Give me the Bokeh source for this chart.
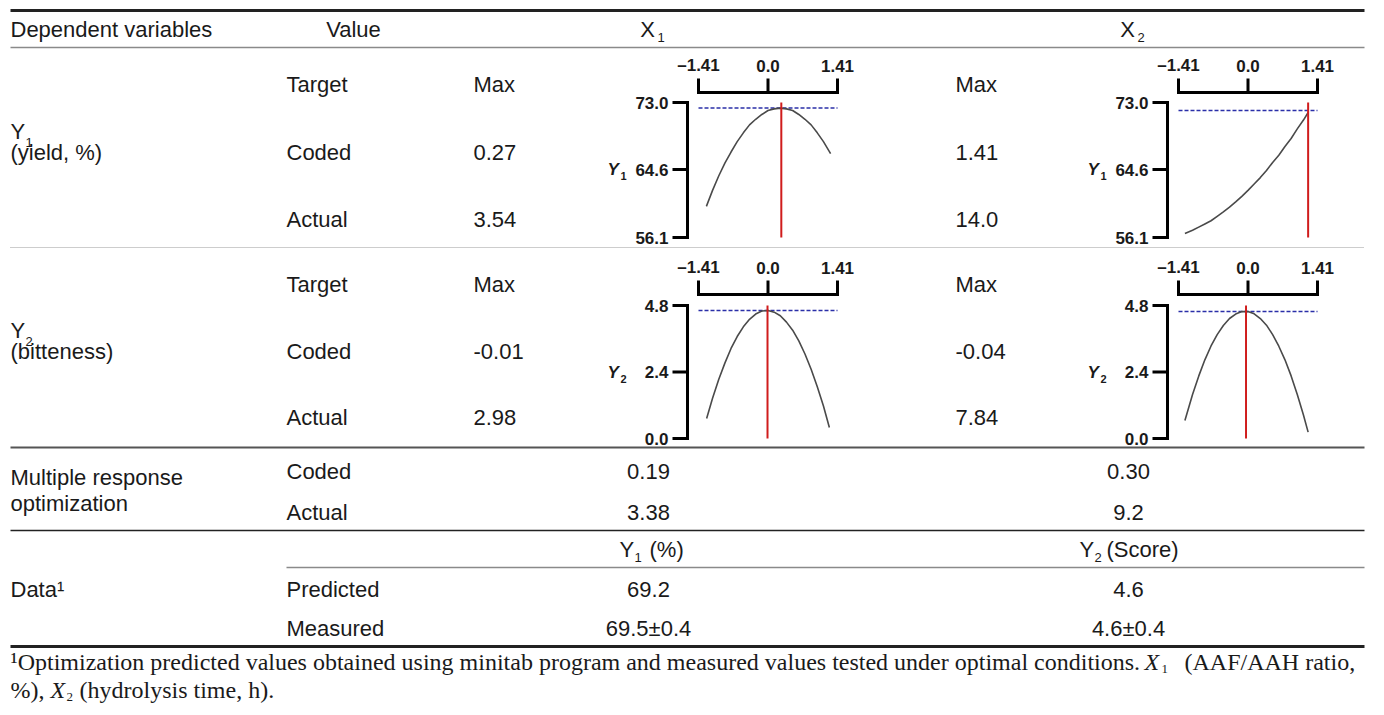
from bokeh.plotting import figure
from bokeh.models import Range1d, ColumnDataSource
from bokeh.core.properties import value
from bokeh.embed import file_html
from bokeh.resources import INLINE

# ---------------- data ----------------
header_labels = ["Dependent variables", "Value"]
factor_names = ["X", "X"]
factor_subs = ["1", "2"]
dep_names = ["Y", "Y"]
dep_subs = ["1", "2"]
dep_units = ["(yield, %)", "(bitteness)"]
value_rows = ["Target", "Coded", "Actual"]
y1_x1_vals = ["Max", "0.27", "3.54"]
y1_x2_vals = ["Max", "1.41", "14.0"]
y2_x1_vals = ["Max", "-0.01", "2.98"]
y2_x2_vals = ["Max", "-0.04", "7.84"]
mro_label = ["Multiple response", "optimization"]
mro_rows = ["Coded", "Actual"]
mro_x1 = ["0.19", "3.38"]
mro_x2 = ["0.30", "9.2"]
data_label = "Data\u00b9"
data_heads = ["(%)", "(Score)"]
data_rows = ["Predicted", "Measured"]
data_y1 = ["69.2", "69.5\u00b10.4"]
data_y2 = ["4.6", "4.6\u00b10.4"]
foot_1a = "\u00b9Optimization predicted values obtained using minitab program and measured values tested under optimal conditions."
foot_1b = "(AAF/AAH ratio,"
foot_2a = "%),"
foot_2b = "(hydrolysis time, h)."

coded_ticks = [-1.41, 0.0, 1.41]
coded_tick_labels = ["\u20131.41", "0.0", "1.41"]
y1_ticks = [73.0, 64.6, 56.1]
y1_tick_labels = ["73.0", "64.6", "56.1"]
y2_ticks = [4.8, 2.4, 0.0]
y2_tick_labels = ["4.8", "2.4", "0.0"]

# response curves (coded factor level -> response)
y1_x1_cx = [-1.25, -1.125, -1.0, -0.875, -0.75, -0.625, -0.5, -0.375, -0.25, -0.125, 0.0,
            0.125, 0.25, 0.375, 0.5, 0.625, 0.75, 0.875, 1.0, 1.125, 1.27]
y1_x1_cy = [60.0, 62.0, 63.8, 65.4, 66.8, 68.1, 69.2, 70.2, 70.9, 71.5, 72.0,
            72.2, 72.3, 72.2, 72.0, 71.5, 70.9, 70.2, 69.2, 68.1, 66.6]
y1_x2_cx = [-1.28, -1.125, -1.0, -0.875, -0.75, -0.625, -0.5, -0.375, -0.25, -0.125, 0.0,
            0.125, 0.25, 0.375, 0.5, 0.625, 0.75, 0.875, 1.0, 1.125, 1.22]
y1_x2_cy = [56.6, 57.0, 57.4, 57.8, 58.2, 58.75, 59.3, 59.9, 60.55, 61.25, 62.0,
            62.8, 63.6, 64.5, 65.5, 66.4, 67.5, 68.5, 69.7, 70.8, 71.75]
y2_x1_cx = [-1.245, -1.125, -1.0, -0.875, -0.75, -0.625, -0.5, -0.375, -0.25, -0.125, 0.0,
            0.125, 0.25, 0.375, 0.5, 0.625, 0.75, 0.875, 1.0, 1.125, 1.245]
y2_x1_cy = [0.72, 1.45, 2.13, 2.72, 3.25, 3.68, 4.03, 4.30, 4.49, 4.60, 4.62,
            4.56, 4.43, 4.20, 3.91, 3.52, 3.05, 2.50, 1.87, 1.17, 0.40]
y2_x2_cx = [-1.28, -1.125, -1.0, -0.875, -0.75, -0.625, -0.5, -0.375, -0.25, -0.125, 0.0,
            0.125, 0.25, 0.375, 0.5, 0.625, 0.75, 0.875, 1.0, 1.125, 1.22]
y2_x2_cy = [0.65, 1.59, 2.25, 2.84, 3.34, 3.75, 4.08, 4.33, 4.49, 4.58, 4.58,
            4.50, 4.33, 4.09, 3.75, 3.33, 2.84, 2.26, 1.59, 0.85, 0.23]
opt_levels = [0.27, 1.22, -0.01, -0.04]      # red vertical lines
target_resp = [72.3, 72.0, 4.62, 4.58]       # blue dashed lines

# ---------------- layout / style ----------------
W, H = 1384, 715
X0, Y0 = 0, 0
SANS = "Liberation Sans"
SERIF = "Liberation Serif"
TXT = "#1a1a1a"
FS = 22
FN = 24
L, R = 10, 1364

p = figure(width=W, height=H, x_range=Range1d(X0, X0 + W), y_range=Range1d(Y0 + H, Y0),
           output_backend="svg", toolbar_location=None, min_border=0)
p.axis.visible = False
p.grid.visible = False
p.outline_line_color = None
p.background_fill_color = "white"
p.border_fill_color = "white"


def txt(xs, ys, texts, size=FS, align="left", style="normal", font=SANS, xr="default", yr="default",
        color=TXT, baseline="middle"):
    src = ColumnDataSource(dict(x=list(xs), y=list(ys), text=list(texts)))
    p.text(x="x", y="y", text="text", source=src, text_font=value(font), text_font_size=f"{size}px",
           text_align=align, text_baseline=baseline, text_font_style=style, text_color=color,
           x_range_name=xr, y_range_name=yr)


def hline(y, x0=L, x1=R, width=1.0, color="#555", dash="solid"):
    p.segment(x0=[x0], y0=[y], x1=[x1], y1=[y], line_width=width, line_color=color, line_dash=dash)


# ----- rules -----
hline(10, width=3, color="#222")
hline(47, width=1.5, color="#8a8a8a")
hline(247, width=1, color="#9a9a9a", dash="1 1")
hline(447, width=2, color="#555")
hline(530, width=1.5, color="#222")
hline(567, x0=286, width=1.5, color="#8a8a8a")
hline(646, width=3, color="#222")

# ----- header -----
txt([L], [29], [header_labels[0]])
txt([353], [29], [header_labels[1]], align="center")
hx = [648, 1128]
txt([x - 1 for x in hx], [29, 29], factor_names, align="center")
txt([x + 9 for x in hx], [37, 37], factor_subs, size=13)

# ----- Y rows -----
row_tops = [84, 284]
row_step = [68, 67]
blocks = [(y1_x1_vals, y1_x2_vals), (y2_x1_vals, y2_x2_vals)]
for i in range(2):
    ys = [row_tops[i], row_tops[i] + row_step[i], row_tops[i] + 2 * row_step[i] - 1]
    txt([286] * 3, ys, value_rows)
    txt([473] * 3, ys, blocks[i][0])
    txt([955] * 3, ys, blocks[i][1])
    txt([L], [ys[1] - 21], [dep_names[i]])
    txt([L + 15], [ys[1] - 10], [dep_subs[i]], size=13)
    txt([L], [ys[1]], [dep_units[i]])

# ----- multiple response optimization -----
txt([L, L], [477, 503], mro_label)
txt([286, 286], [471, 512], mro_rows)
txt([648, 648], [471, 512], mro_x1, align="center")
txt([1128, 1128], [471, 512], mro_x2, align="center")

# ----- data -----
txt([619, 1079], [549, 549], dep_names)
txt([634, 1094], [557, 557], dep_subs, size=13)
txt([649, 1106], [549, 549], data_heads)
txt([L], [589], [data_label])
txt([286, 286], [589, 628], data_rows)
txt([648, 648], [589, 628], data_y1, align="center")
txt([1128, 1128], [589, 628], data_y2, align="center")

# ----- footnote -----
txt([L], [661], [foot_1a], size=FN, font=SERIF)
txt([1144], [661], ["X"], size=FN, font=SERIF, style="italic")
txt([1161], [668], ["1"], size=13, font=SERIF)
txt([1184], [661], [foot_1b], size=FN, font=SERIF)
txt([L], [689], [foot_2a], size=FN, font=SERIF)
txt([50], [689], ["X"], size=FN, font=SERIF, style="italic")
txt([66], [696], ["2"], size=13, font=SERIF)
txt([79], [689], [foot_2b], size=FN, font=SERIF)

# ----- mini response plots -----
minis = [
    # curve x, curve y, y ticks, y labels, optimum, target, x px(-1.41,1.41), y px(top,bottom), axis x px, top axis y px, subscript
    (y1_x1_cx, y1_x1_cy, y1_ticks, y1_tick_labels, opt_levels[0], target_resp[0], (698, 837), (102, 237), 687, 92, "1"),
    (y1_x2_cx, y1_x2_cy, y1_ticks, y1_tick_labels, opt_levels[1], target_resp[1], (1178, 1317), (102, 237), 1167, 92, "1"),
    (y2_x1_cx, y2_x1_cy, y2_ticks, y2_tick_labels, opt_levels[2], target_resp[2], (698, 837), (305, 438), 687, 294, "2"),
    (y2_x2_cx, y2_x2_cy, y2_ticks, y2_tick_labels, opt_levels[3], target_resp[3], (1178, 1317), (305, 438), 1167, 294, "2"),
]
for k, (cx, cy, yt, ytl, opt, tgt, xpx, ypx, axx, topy, sub) in enumerate(minis):
    xlo, xhi = coded_ticks[0], coded_ticks[-1]
    sx = (xpx[1] - xpx[0]) / (xhi - xlo)
    ytop, ybot = yt[0], yt[-1]
    sy = (ypx[1] - ypx[0]) / (ytop - ybot)
    xn, yn = f"mx{k}", f"my{k}"
    p.extra_x_ranges[xn] = Range1d(xlo + (X0 - xpx[0]) / sx, xlo + (X0 + W - xpx[0]) / sx)
    p.extra_y_ranges[yn] = Range1d(ytop - (Y0 + H - ypx[0]) / sy, ytop - (Y0 - ypx[0]) / sy)

    # top (coded level) axis
    p.segment(x0=[xlo], y0=[topy], x1=[xhi], y1=[topy], x_range_name=xn, line_width=3, line_color="black")
    p.segment(x0=coded_ticks, y0=[topy + 1.5] * 3, x1=coded_ticks, y1=[topy - 14] * 3, x_range_name=xn,
              line_width=3, line_color="black")
    txt(coded_ticks, [topy - 27] * 3, coded_tick_labels, size=17, align="center", style="bold", xr=xn)

    # left (response) axis
    p.segment(x0=[axx], y0=[ybot], x1=[axx], y1=[ytop], y_range_name=yn, line_width=3, line_color="black")
    p.segment(x0=[axx - 15] * 3, y0=yt, x1=[axx + 1.5] * 3, y1=yt, y_range_name=yn, line_width=3,
              line_color="black")
    txt([axx - 19] * 3, yt, ytl, size=17, align="right", style="bold", yr=yn)
    txt([axx - 80], [yt[1]], ["Y"], size=17, style="bold italic", yr=yn)
    txt([axx - 67], [yt[1] - (ytop - ybot) * 0.05], [sub], size=11, style="bold", yr=yn)

    # target line, response curve, optimum
    p.segment(x0=[xlo], y0=[tgt], x1=[xhi], y1=[tgt], x_range_name=xn, y_range_name=yn,
              line_color="#2a2fa8", line_width=1.5, line_dash="4 2")
    p.line(x=cx, y=cy, x_range_name=xn, y_range_name=yn, line_color="#4a4a4a", line_width=1.6)
    p.segment(x0=[opt], y0=[ybot], x1=[opt], y1=[ytop], x_range_name=xn, y_range_name=yn,
              line_color="#d01c1c", line_width=2)

open("out.html", "w").write(file_html(p, INLINE))
